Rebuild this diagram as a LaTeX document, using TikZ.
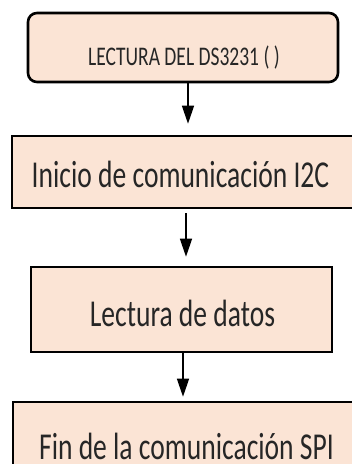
\documentclass[tikz,border=0pt]{standalone}
\usepackage{fontspec}
\newfontfamily\carlito{Carlito}
\usetikzlibrary{arrows.meta}
\definecolor{durazno}{HTML}{FBE4D5}
\definecolor{tinta}{HTML}{262626}
\newcommand{\angosto}[1]{\scalebox{0.725}[1]{#1}}

\begin{document}
\begin{tikzpicture}[x=1pt,y=-1pt,
  caja/.style={draw=black, fill=durazno, line width=2.6pt, inner sep=0pt},
  texto/.style={text=tinta, inner sep=0pt, text depth=0pt},
  chico/.style={texto, font=\carlito\fontsize{26.9}{30}\selectfont, text height=17pt},
  grande/.style={texto, font=\carlito\fontsize{38}{42}\selectfont, text height=24pt},
  flecha/.style={line width=1.4pt, -{Triangle[length=18pt,width=12pt]}}]
  %
  \useasboundingbox (0,0) rectangle (352,464);
  \clip (0,0) rectangle (352,464);
  \fill[white] (0,0) rectangle (352,464);
  %
  \node[caja, rounded corners=9pt, minimum width=310pt, minimum height=69pt] (lectura) at (183,47.5) {};
  \node[caja, minimum width=342pt, minimum height=72pt] (inicio) at (183,172) {};
  \node[caja, minimum width=301pt, minimum height=85pt] (datos) at (181.5,309.5) {};
  \node[caja, minimum width=343pt, minimum height=96pt] (fin) at (184.5,450) {};
  %
  \node[chico] (tlectura) at (184,56.5) {\angosto{LECTURA DEL DS3231 ( )}};
  \node[grande] (tinicio) at (180.5,175) {\angosto{Inicio de comunicación I2C}};
  \node[grande] (tdatos) at (182.5,314) {\angosto{Lectura de datos}};
  \node[grande] (tfin) at (186.5,447.5) {\angosto{Fin de la comunicación SPI}};
  %
  \draw[flecha, shorten >=11pt] ([xshift=5pt]lectura.south) -- ([xshift=5pt]inicio.north);
  \draw[flecha, shorten <=4pt, shorten >=9pt] ([xshift=3pt]inicio.south) -- ([xshift=4.5pt]datos.north);
  \draw[flecha, shorten >=4pt] ([xshift=1.5pt]datos.south) -- ([xshift=-1.5pt]fin.north);
  %
\end{tikzpicture}
\end{document}
